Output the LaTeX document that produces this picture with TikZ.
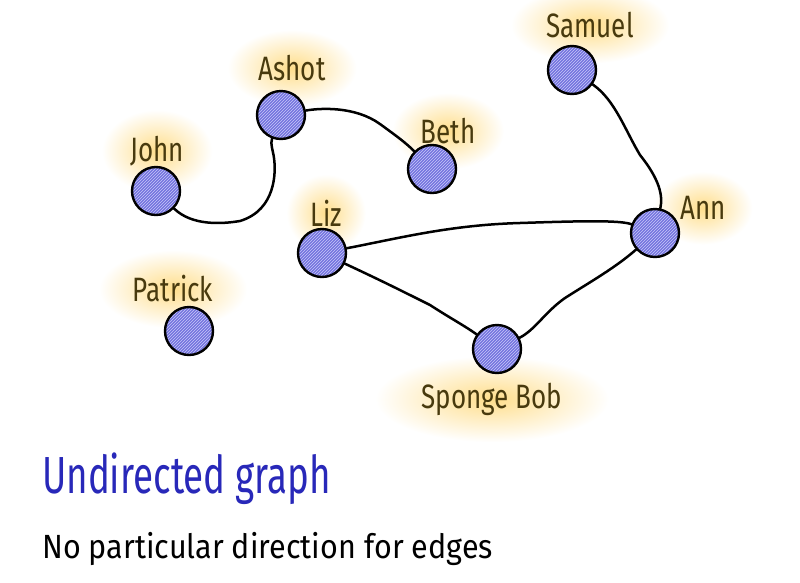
\documentclass[tikz,border=0pt]{standalone}
\usepackage{fontspec}
\setmainfont{Fira Sans}
\usetikzlibrary{patterns,backgrounds,fit,shapes.geometric}
\definecolor{vfill}{RGB}{116,116,222}
\definecolor{vhatch}{RGB}{200,200,248}
\definecolor{labc}{RGB}{72,58,14}
\definecolor{glowc}{RGB}{255,222,140}
\definecolor{titlec}{RGB}{40,40,185}
\newcommand{\tallt}[1]{\scalebox{1}[1.3]{#1}}
\tikzset{
  vertex/.style={circle, draw=black, line width=2.4pt, minimum size=48pt, inner sep=0pt,
    preaction={fill=vfill}, pattern=north east lines, pattern color=vhatch},
  vlabel/.style={text=labc, font=\fontsize{26}{28}\selectfont, inner sep=2pt},
  glow/.style={ellipse, inner xsep=10pt, inner ysep=12pt, inner color=glowc, outer color=white, draw=none},
  edge/.style={draw=black, line width=2.5pt, line cap=round},
}
\begin{document}
\begin{tikzpicture}[x=1pt,y=-1pt]
\useasboundingbox (0,0) rectangle (800,582);
% vertices
\node[vertex] (samuel) at (572,70) {};
\node[vertex] (ashot) at (281,115) {};
\node[vertex] (beth) at (432,169) {};
\node[vertex] (john) at (156,191) {};
\node[vertex] (liz) at (322,253) {};
\node[vertex] (ann) at (655,233) {};
\node[vertex] (patrick) at (189,331) {};
\node[vertex] (sponge) at (497,349) {};
% labels
\node[vlabel] (lsamuel) at (590,25) {\tallt{Samuel}};
\node[vlabel] (lashot) at (292,68) {\tallt{Ashot}};
\node[vlabel] (lbeth) at (448,131) {\tallt{Beth}};
\node[vlabel] (ljohn) at (157,151) {\tallt{John}};
\node[vlabel] (lliz) at (326,213) {\tallt{Liz}};
\node[vlabel] (lann) at (703,208) {\tallt{Ann}};
\node[vlabel] (lpatrick) at (173,289) {\tallt{Patrick}};
\node[vlabel] (lsponge) at (492,399) {\tallt{Sponge Bob}};
\begin{scope}[on background layer]
\fill[white] (0,0) rectangle (800,582);
\foreach \l in {lsamuel,lashot,lbeth,ljohn,lliz,lann,lpatrick,lsponge}
  \node[glow, fit=(\l)] {};
\end{scope}
% edges
\draw[edge] (john) .. controls (192,226) and (222,224) .. (240,221)
  .. controls (276,210) and (276,172) .. (274,158)
  .. controls (273,150) and (270,144) .. (ashot);
\draw[edge] (ashot) .. controls (320,108) and (355,106) .. (380,124)
  .. controls (395,135) and (405,142) .. (beth);
\draw[edge] (samuel) .. controls (615,100) and (625,130) .. (640,155)
  .. controls (660,180) and (663,196) .. (ann);
\draw[edge] (liz) .. controls (400,238) and (450,225) .. (520,223)
  .. controls (580,221) and (620,220) .. (ann);
\draw[edge] (liz) .. controls (380,280) and (400,290) .. (430,305)
  .. controls (450,318) and (465,326) .. (sponge);
\draw[edge] (sponge) .. controls (535,330) and (545,312) .. (565,298)
  .. controls (590,282) and (615,268) .. (ann);
% captions
\node[text=titlec, font=\fontsize{36}{40}\selectfont, anchor=base west, inner sep=0pt] (title) at (42,493) {\scalebox{1.02}[1.45]{Undirected graph}};
\node[text=black, font=\fontsize{30.5}{34}\selectfont, anchor=base west, inner sep=0pt] (sub) at (42,558) {\scalebox{1}[1.1]{No particular direction for edges}};
\end{tikzpicture}
\end{document}
